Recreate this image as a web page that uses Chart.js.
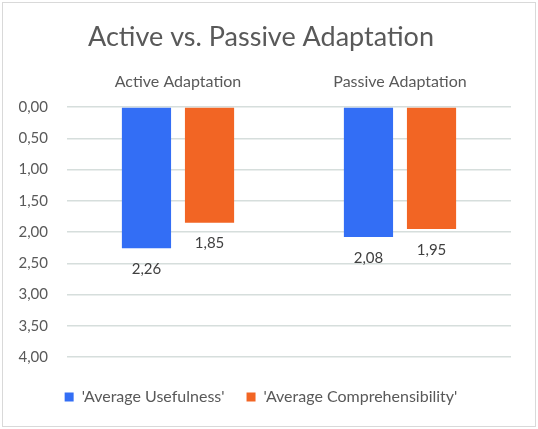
<!DOCTYPE html>
<html>
<head>
<meta charset="utf-8">
<script src="https://cdn.jsdelivr.net/npm/chart.js@4"></script>
<style>
    body { margin: 0; background: #fff; }
    #wrap { width: 538px; height: 429px; }
</style>
</head>
<body>
<div id="wrap"><canvas id="adaptChart" width="538" height="429"></canvas></div>
<script>
const categories = ['Active Adaptation', 'Passive Adaptation'];
const usefulness = [2.26, 2.08];
const comprehensibility = [1.85, 1.95];
const seriesNames = ["'Average Usefulness'", "'Average Comprehensibility'"];

const fmt = v => v.toFixed(2).replace('.', ',');

// draws white background and the thin frame round the whole chart
const framePlugin = {
    id: 'frame',
    beforeDraw(chart) {
        const c = chart.ctx;
        c.save();
        c.fillStyle = '#fff';
        c.fillRect(0, 0, chart.width, chart.height);
        c.strokeStyle = '#d9d9d9';
        c.lineWidth = 1;
        c.strokeRect(2.5, 2.5, chart.width - 5, chart.height - 5);
        c.restore();
    }
};

// value labels under the end of each bar
const valueLabels = {
    id: 'valueLabels',
    afterDatasetsDraw(chart) {
        const c = chart.ctx;
        c.save();
        c.font = '15px Lato';
        c.fillStyle = '#404040';
        c.textAlign = 'center';
        c.textBaseline = 'middle';
        chart.data.datasets.forEach((ds, i) => {
            chart.getDatasetMeta(i).data.forEach((bar, j) => {
                c.fillText(fmt(ds.data[j]), bar.x, bar.y + 21);
            });
        });
        c.restore();
    }
};

new Chart(document.getElementById('adaptChart'), {
    type: 'bar',
    data: {
        labels: categories,
        datasets: [
            { label: seriesNames[0], data: usefulness, backgroundColor: '#336ef5' },
            { label: seriesNames[1], data: comprehensibility, backgroundColor: '#f26524' }
        ]
    },
    options: {
        responsive: false,
        animation: false,
        layout: { padding: { left: 0, right: 16, top: 0, bottom: 14 } },
        categoryPercentage: 0.568,
        barPercentage: 0.78,
        plugins: {
            title: {
                display: true,
                text: 'Active vs. Passive Adaptation',
                color: '#595959',
                font: { family: 'Lato', size: 27, weight: 'normal' },
                padding: { top: 21, bottom: 0 }
            },
            legend: {
                position: 'bottom',
                labels: {
                    color: '#595959',
                    font: { family: 'Lato', size: 16 },
                    boxWidth: 9,
                    boxHeight: 9,
                    padding: 22
                }
            },
            tooltip: { enabled: false }
        },
        scales: {
            x: {
                position: 'top',
                grid: { display: false, drawTicks: false, tickLength: 0 },
                border: { display: false },
                afterFit(scale) { scale.height = 53.6; },
                ticks: {
                    color: '#595959',
                    font: { family: 'Lato', size: 16 },
                    padding: 16
                }
            },
            // empty axis only used as a gap between plot and legend
            xGap: {
                type: 'category',
                position: 'bottom',
                grid: { display: false, drawTicks: false },
                border: { display: false },
                ticks: { display: false },
                afterFit(scale) { scale.height = 10; }
            },
            y: {
                reverse: true,
                min: 0,
                max: 4,
                grid: { color: '#d6dedc', lineWidth: 1.5, drawTicks: false },
                border: { display: false },
                afterFit(scale) { scale.width = 67; },
                ticks: {
                    stepSize: 0.5,
                    color: '#595959',
                    font: { family: 'Lato', size: 15 },
                    padding: 19,
                    callback: v => fmt(v)
                }
            },
            yGap: {
                type: 'linear',
                position: 'right',
                grid: { display: false, drawTicks: false },
                border: { display: false },
                ticks: { display: false },
                afterFit(scale) { scale.width = 11; }
            }
        }
    },
    plugins: [framePlugin, valueLabels]
});
</script>
</body>
</html>
